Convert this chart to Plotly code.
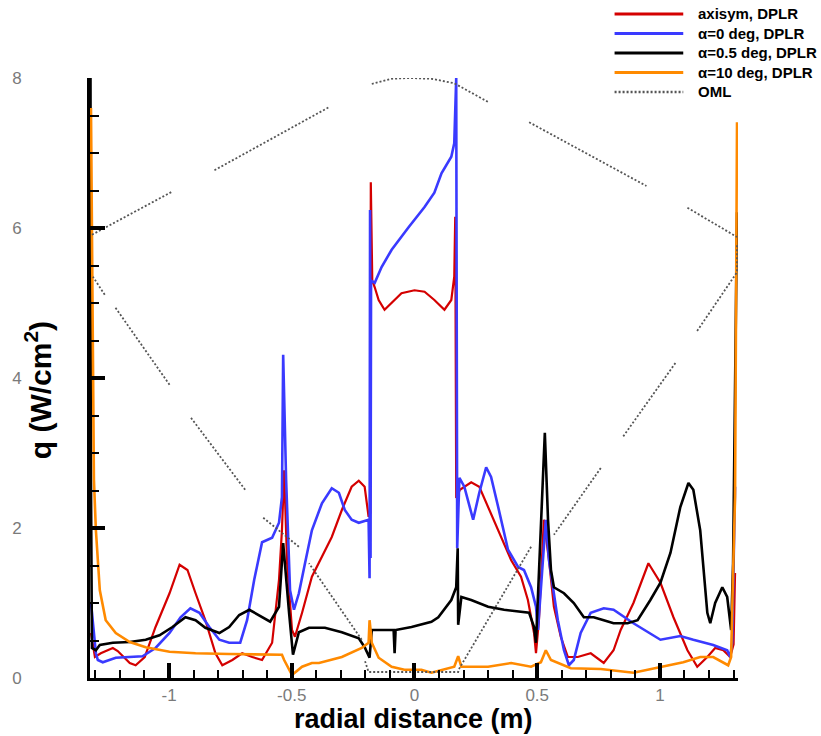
import plotly.graph_objects as go

# Surface heat flux along the radial coordinate for several DPLR solutions
# and the outer mold line (OML) profile overlaid for reference.

x_axisym = [-1.318, -1.302, -1.278, -1.229, -1.209, -1.160, -1.136, -1.099, -1.055, -0.998,
            -0.957, -0.925, -0.892, -0.852, -0.811, -0.783, -0.742, -0.702, -0.661, -0.621,
            -0.580, -0.552, -0.540, -0.531, -0.519, -0.499, -0.487, -0.458, -0.418, -0.377,
            -0.337, -0.296, -0.256, -0.227, -0.203, -0.187, -0.180, -0.178, -0.175, -0.172,
            -0.162, -0.146, -0.122, -0.093, -0.053, 0.000, 0.041, 0.081, 0.122, 0.150,
            0.162, 0.166, 0.170, 0.185, 0.231, 0.264, 0.300, 0.353, 0.394, 0.434,
            0.462, 0.487, 0.495, 0.507, 0.527, 0.548, 0.568, 0.596, 0.625, 0.665,
            0.718, 0.771, 0.811, 0.840, 0.892, 0.953, 1.002, 1.055, 1.112, 1.152,
            1.193, 1.225, 1.258, 1.286, 1.300, 1.306]
q_axisym = [0.60, 0.28, 0.33, 0.40, 0.36, 0.20, 0.17, 0.28, 0.68, 1.13,
            1.51, 1.44, 1.13, 0.77, 0.33, 0.17, 0.24, 0.33, 0.28, 0.24,
            0.47, 1.31, 1.97, 2.77, 1.53, 0.64, 0.55, 0.87, 1.35, 1.61,
            1.88, 2.24, 2.55, 2.63, 2.55, 2.15, 2.20, 6.61, 5.60, 5.30,
            5.21, 5.04, 4.91, 5.00, 5.13, 5.17, 5.15, 5.04, 4.91, 5.04,
            5.35, 6.15, 2.40, 2.51, 2.61, 2.55, 2.28, 1.88, 1.57, 1.35,
            1.04, 0.60, 0.33, 0.77, 2.11, 1.57, 0.95, 0.55, 0.28, 0.28,
            0.33, 0.20, 0.37, 0.64, 1.00, 1.53, 1.27, 0.81, 0.37, 0.15,
            0.28, 0.40, 0.37, 0.28, 0.45, 1.40]

x_alpha0 = [-1.318, -1.298, -1.290, -1.270, -1.217, -1.160, -1.108, -1.055, -0.998, -0.953,
            -0.913, -0.876, -0.836, -0.795, -0.755, -0.710, -0.682, -0.653, -0.621, -0.580,
            -0.552, -0.540, -0.535, -0.523, -0.507, -0.491, -0.471, -0.446, -0.418, -0.377,
            -0.337, -0.308, -0.284, -0.256, -0.227, -0.187, -0.183, -0.181, -0.179, -0.177,
            -0.162, -0.134, -0.093, -0.024, 0.041, 0.081, 0.110, 0.150, 0.162, 0.170,
            0.174, 0.183, 0.203, 0.239, 0.264, 0.292, 0.312, 0.341,
            0.381, 0.422, 0.446, 0.475, 0.495, 0.503, 0.535, 0.548, 0.584, 0.609,
            0.629, 0.649, 0.677, 0.718, 0.771, 0.811, 0.892, 1.002, 1.083, 1.136,
            1.217, 1.274, 1.286, 1.294, 1.306]
q_alpha0 = [1.00, 0.33, 0.24, 0.21, 0.27, 0.28, 0.29, 0.40, 0.60, 0.81,
            0.93, 0.87, 0.68, 0.51, 0.47, 0.47, 0.77, 1.31, 1.81, 1.87,
            2.07, 2.41, 4.31, 2.64, 1.17, 0.91, 1.13, 1.53, 1.97, 2.33,
            2.53, 2.47, 2.24, 2.11, 2.07, 2.11, 1.33, 6.24, 1.60, 5.30,
            5.27, 5.48, 5.71, 6.01, 6.28, 6.47, 6.73, 6.95, 7.13, 8.00,
            1.73, 2.67, 2.55, 2.11, 2.47, 2.81, 2.68, 2.28,
            1.71, 1.48, 1.44, 1.21, 0.95, 0.64, 2.11, 1.57, 0.77, 0.37,
            0.17, 0.24, 0.60, 0.87, 0.93, 0.91, 0.73, 0.51, 0.56, 0.51,
            0.44, 0.37, 0.28, 0.47, 2.55]

x_alpha05 = [-1.320, -1.318, -1.314, -1.298, -1.282, -1.229, -1.160, -1.095, -1.039, -0.986,
             -0.933, -0.892, -0.852, -0.795, -0.755, -0.714, -0.673, -0.633, -0.588, -0.552,
             -0.535, -0.511, -0.495, -0.471, -0.430, -0.365, -0.296, -0.227, -0.203, -0.183,
             -0.174, -0.146, -0.085, -0.081, -0.077, -0.012, 0.069, 0.097, 0.150, 0.170,
             0.176, 0.178, 0.191, 0.231, 0.300, 0.365, 0.434, 0.467, 0.487, 0.495,
             0.531, 0.544, 0.556, 0.568, 0.609, 0.649, 0.690, 0.730, 0.771, 0.811,
             0.868, 0.909, 0.961, 1.002, 1.043, 1.083, 1.116, 1.136, 1.164, 1.193,
             1.205, 1.225, 1.254, 1.274, 1.290, 1.298, 1.314]
q_alpha05 = [8.00, 2.60, 0.40, 0.37, 0.44, 0.47, 0.48, 0.51, 0.57, 0.68,
             0.81, 0.77, 0.67, 0.60, 0.68, 0.84, 0.91, 0.84, 0.75, 0.95,
             1.80, 0.87, 0.31, 0.61, 0.67, 0.67, 0.61, 0.53, 0.41, 0.27,
             0.64, 0.64, 0.64, 0.33, 0.64, 0.68, 0.75, 0.81, 1.04, 1.21,
             1.73, 0.71, 1.08, 1.04, 0.95, 0.91, 0.88, 0.87, 0.68, 0.47,
             3.27, 2.11, 1.44, 1.21, 1.13, 1.00, 0.81, 0.81, 0.77, 0.73,
             0.73, 0.77, 1.04, 1.27, 1.67, 2.28, 2.60, 2.51, 1.97, 0.87,
             0.73, 1.00, 1.21, 1.08, 0.64, 1.53, 6.21]

x_alpha10 = [-1.318, -1.306, -1.298, -1.282, -1.258, -1.217, -1.160, -1.095, -0.998, -0.892,
             -0.755, -0.621, -0.540, -0.531, -0.499, -0.458, -0.418, -0.389, -0.296, -0.215,
             -0.187, -0.183, -0.174, -0.146, -0.093, -0.041, 0.028, 0.069, 0.162, 0.178,
             0.191, 0.300, 0.394, 0.475, 0.515, 0.535, 0.556, 0.637, 0.759, 0.892,
             1.002, 1.095, 1.164, 1.217, 1.278, 1.290, 1.298, 1.306, 1.314]
q_alpha10 = [7.60, 2.64, 1.97, 1.17, 0.77, 0.60, 0.48, 0.41, 0.35, 0.33,
             0.32, 0.31, 0.31, 0.24, 0.04, 0.15, 0.20, 0.20, 0.28, 0.40,
             0.47, 0.77, 0.47, 0.27, 0.15, 0.11, 0.11, 0.07, 0.15, 0.29,
             0.15, 0.15, 0.20, 0.15, 0.21, 0.37, 0.24, 0.13, 0.12, 0.07,
             0.15, 0.21, 0.28, 0.28, 0.17, 0.28, 1.40, 2.41, 7.41]

# OML outline (scaled into the plot frame); None marks breaks in the dotted trace
x_oml = [-1.314, -0.990, None, -0.815, -0.349, None, -0.174, -0.093, -0.024, 0.069,
         0.162, 0.300, None, 0.467, 0.945, None, 1.112, 1.314, None, 1.314,
         1.314, 1.148, None, 1.063, 0.848, None, 0.759, 0.568, None, 0.475,
         0.183, 0.178, -0.187, -0.203, None, -0.215, -0.430, None, -0.471, -0.621,
         None, -0.690, -0.913, None, -0.998, -1.221, None, -1.262, -1.310]
y_oml = [5.91, 6.48, None, 6.77, 7.61, None, 7.92, 7.99, 8.00, 7.99,
         7.93, 7.68, None, 7.41, 6.56, None, 6.27, 5.88, None, 5.77,
         5.41, 4.61, None, 4.20, 3.21, None, 2.80, 1.91, None, 1.75,
         0.13, 0.08, 0.08, 0.24, None, 0.51, 1.53, None, 1.75, 2.15,
         None, 2.51, 3.48, None, 3.91, 4.95, None, 5.11, 5.35]

series_names = ["axisym, DPLR", "\u03b1=0 deg, DPLR", "\u03b1=0.5 deg, DPLR",
                "\u03b1=10 deg, DPLR", "OML"]
series_colors = ["#d40000", "#3a3aff", "#000000", "#ff8a00", "#555555"]
series_widths = [2.2, 2.6, 2.6, 2.6, 1.8]
series_dash = ["solid", "solid", "solid", "solid", "2px,2px"]

x_tickvals = [-1, -0.5, 0, 0.5, 1]
x_ticktext = ["-1", "-0.5", "0", "0.5", "1"]
y_tickvals = [0, 2, 4, 6, 8]
y_ticktext = ["0", "2", "4", "6", "8"]

data_x = [x_axisym, x_alpha0, x_alpha05, x_alpha10, x_oml]
data_y = [q_axisym, q_alpha0, q_alpha05, q_alpha10, y_oml]

fig = go.Figure()
for i, name in enumerate(series_names):
    fig.add_trace(go.Scatter(
        x=data_x[i], y=data_y[i], mode="lines", name=name,
        line=dict(color=series_colors[i], width=series_widths[i], dash=series_dash[i]),
        connectgaps=False, showlegend=False,
    ))

W, H = 821, 736
ml, mr, mt, mb = 87, 83, 78, 58
pw, ph = W - ml - mr, H - mt - mb


def px_to_paper(px, py):
    return (px - ml) / pw, (H - mb - py) / ph


# legend drawn as line samples + labels in the top-right corner
leg_rows = [14, 33.5, 53, 72.5, 92]
for i, name in enumerate(series_names):
    xa, ya = px_to_paper(614, leg_rows[i])
    xb, _ = px_to_paper(683, leg_rows[i])
    xt, _ = px_to_paper(696, leg_rows[i])
    fig.add_shape(type="line", xref="paper", yref="paper", x0=xa, x1=xb, y0=ya, y1=ya,
                  line=dict(color=series_colors[i], width=series_widths[i] + 0.6,
                            dash=series_dash[i]))
    fig.add_annotation(xref="paper", yref="paper", x=xt, y=ya,
                       text=name, showarrow=False, xanchor="left", yanchor="middle",
                       font=dict(family="Liberation Sans, Arial", size=15, color="black",
                                 weight="bold"))

# axis titles
tx, ty = px_to_paper(35, 390)
fig.add_annotation(xref="paper", yref="paper", x=tx, y=ty,
                   text="q (W/cm<sup>2</sup>)", showarrow=False, textangle=-90,
                   xanchor="center", yanchor="middle",
                   font=dict(family="Liberation Sans, Arial", size=30, color="black",
                             weight="bold"))
tx, ty = px_to_paper(412, 719)
fig.add_annotation(xref="paper", yref="paper", x=tx, y=ty,
                   text="radial distance (m)", showarrow=False,
                   xanchor="center", yanchor="middle",
                   font=dict(family="Liberation Sans, Arial", size=27, color="black",
                             weight="bold"))

axis_font = dict(family="Liberation Sans, Arial", size=17, color="#7a7a7a")
fig.update_xaxes(
    range=[-1.322, 1.318], showgrid=False, zeroline=False,
    showline=True, linecolor="black", linewidth=3,
    ticks="inside", ticklen=15, tickwidth=3.5, tickcolor="black",
    tickvals=x_tickvals, ticktext=x_ticktext, tickfont=axis_font,
    minor=dict(ticks="inside", ticklen=8, tickwidth=1.5, tickcolor="black", dtick=0.1, tick0=0),
)
fig.update_yaxes(
    range=[0, 8], showgrid=False, zeroline=False,
    showline=True, linecolor="black", linewidth=3,
    ticks="inside", ticklen=15, tickwidth=3.5, tickcolor="black",
    tickvals=y_tickvals, ticktext=y_ticktext, tickfont=axis_font,
    ticklabelstandoff=62,
    minor=dict(ticks="inside", ticklen=9, tickwidth=1.5, tickcolor="black", dtick=0.5, tick0=0),
)
fig.update_layout(
    width=W, height=H, autosize=False,
    margin=dict(l=ml, r=mr, t=mt, b=mb, pad=0),
    plot_bgcolor="white", paper_bgcolor="white",
    showlegend=False,
)
fig.write_html("out.html")
